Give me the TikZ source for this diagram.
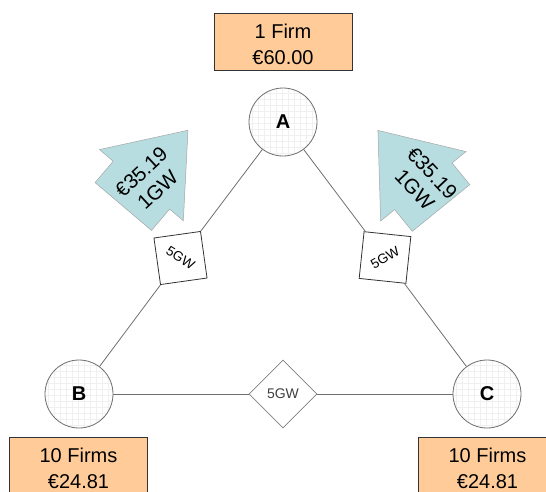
\documentclass[tikz,border=0pt]{standalone}
\usepackage{fontspec}
\setmainfont{Liberation Sans}
\usepackage{graphicx}
\usetikzlibrary{shapes.geometric}
\definecolor{peach}{RGB}{255,204,153}
\definecolor{aqua}{RGB}{183,221,225}
\definecolor{lineg}{RGB}{110,110,110}
\definecolor{gridc}{RGB}{240,240,240}
\begin{document}
\begin{tikzpicture}[x=1pt,y=-1pt,
  firmbox/.style={draw=black!80, fill=peach, line width=0.8pt, minimum width=138pt, minimum height=57pt, inner sep=0pt, align=center, font=\fontsize{20}{26}\selectfont},
  hub/.style={circle, draw=lineg, line width=0.8pt, fill=white, minimum size=68pt, inner sep=0pt, font=\fontsize{20}{24}\selectfont\bfseries,
    path picture={\draw[gridc, line width=0.4pt, step=6pt] (path picture bounding box.south west) grid (path picture bounding box.north east);}},
  link/.style={draw=lineg, line width=0.8pt},
  capbox/.style={draw=black!80, fill=white, line width=0.8pt, minimum size=47pt, inner sep=0pt, font=\fontsize{13.5}{13.5}\selectfont},
  capdia/.style={diamond, draw=black!50, fill=white, line width=0.8pt, minimum width=68pt, minimum height=68pt, inner sep=0pt, font=\fontsize{14}{14}\selectfont, text=black!75},
  arrowshape/.style={fill=aqua, draw=black!35, line width=0.5pt, line join=miter},
  arrtext/.style={align=center, inner sep=0pt, font=\fontsize{20.5}{24}\selectfont}
]
\useasboundingbox (0,0) rectangle (546,491);

% hubs
\node[hub] (A) at (283,122) {A};
\node[hub] (B) at (79,394) {B};
\node[hub] (C) at (487,394) {C};

% capacity boxes
\node[capbox, rotate=8] (ls) at (180.5,258) {\rotatebox{-40}{5GW}};
\node[capbox, rotate=-6] (rs) at (385,257.5) {\rotatebox{36}{5GW}};
\node[capdia] (d) at (283,394) {5GW};

% links
\draw[link] (A) -- (ls);
\draw[link] (ls) -- (B);
\draw[link] (A) -- (rs);
\draw[link] (rs) -- (C);
\draw[link] (B) -- (d);
\draw[link] (d) -- (C);

% flow arrows
\begin{scope}[shift={(123.3,206.5)}, rotate=49.7]
  \draw[arrowshape] (0,-37) -- (28,-37) -- (28,-55) -- (100,0) -- (28,55) -- (28,37) -- (0,37) -- cycle;
\end{scope}
\begin{scope}[shift={(441,208)}, rotate=129.1]
  \draw[arrowshape] (0,-37) -- (28,-37) -- (28,-55) -- (100,0) -- (28,55) -- (28,37) -- (0,37) -- cycle;
\end{scope}
\node[arrtext, rotate=43] (lt) at (149.5,181) {€35.19\\1GW};
\node[arrtext, rotate=-47] (rt) at (423.5,181.5) {€35.19\\1GW};

% firm boxes
\node[firmbox] (fa) at (283,41.5) {\rule{0pt}{21pt}1 Firm\\€60.00};
\node[firmbox] (fb) at (78.5,465.5) {\rule{0pt}{21pt}10 Firms\\€24.81};
\node[firmbox] (fc) at (487.5,465.5) {\rule{0pt}{21pt}10 Firms\\€24.81};
\end{tikzpicture}
\end{document}
